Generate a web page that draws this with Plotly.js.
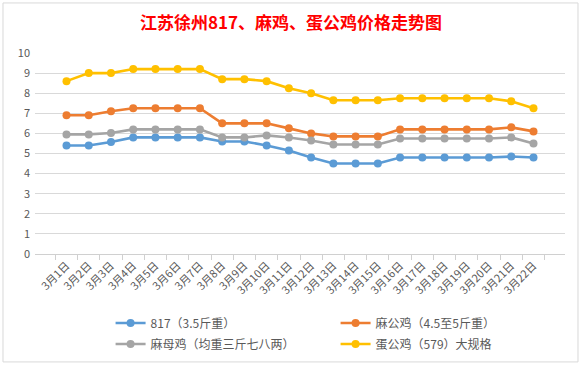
<!DOCTYPE html>
<html><head><meta charset="utf-8">
<script src="https://cdn.plot.ly/plotly-3.0.1.min.js"></script>
<style>html,body{margin:0;padding:0;background:#fff}#c{width:582px;height:366px}</style>
</head><body><div id="c"></div>
<script>
const categories = ["3月1日","3月2日","3月3日","3月4日","3月5日","3月6日","3月7日","3月8日","3月9日","3月10日","3月11日","3月12日","3月13日","3月14日","3月15日","3月16日","3月17日","3月18日","3月19日","3月20日","3月21日","3月22日"];
const s817 = [5.4,5.4,5.57,5.8,5.8,5.8,5.8,5.6,5.6,5.4,5.15,4.8,4.5,4.5,4.5,4.8,4.8,4.8,4.8,4.8,4.85,4.8];
const maGongJi = [6.9,6.9,7.1,7.25,7.25,7.25,7.25,6.5,6.5,6.5,6.25,6.0,5.85,5.85,5.85,6.2,6.2,6.2,6.2,6.2,6.3,6.1];
const maMuJi = [5.95,5.95,6.02,6.2,6.2,6.2,6.2,5.8,5.8,5.9,5.8,5.65,5.45,5.45,5.45,5.75,5.75,5.75,5.75,5.75,5.8,5.5];
const danGongJi = [8.6,9.0,9.0,9.2,9.2,9.2,9.2,8.7,8.7,8.6,8.25,8.0,7.65,7.65,7.65,7.75,7.75,7.75,7.75,7.75,7.6,7.25];
const names = ["817（3.5斤重）","麻公鸡（4.5至5斤重）","麻母鸡（均重三斤七八两）","蛋公鸡（579）大规格"];
const colors = ["#5B9BD5","#ED7D31","#A5A5A5","#FFC000"];
const series = [s817, maGongJi, maMuJi, danGongJi];
const legendIds = ["legend","legend","legend2","legend2"];
const font = "Noto Sans CJK SC, Noto Sans, sans-serif";
const traces = series.map((y,i)=>({
  x: categories, y: y, name: names[i], type: 'scatter', mode: 'lines+markers',
  line: {color: colors[i], width: 2.6}, marker: {color: colors[i], size: 8},
  legend: legendIds[i]
}));
const legendBase = {orientation: 'h', xref: 'container', yref: 'container', x: 0.19, xanchor: 'left', yanchor: 'middle',
  entrywidth: 180, entrywidthmode: 'pixels', font: {size: 12, color: '#595959'}, itemwidth: 30, bgcolor: 'rgba(0,0,0,0)'};
const layout = {
  width: 582, height: 366,
  margin: {l: 35, r: 17, t: 53, b: 112, autoexpand: false},
  paper_bgcolor: '#fff', plot_bgcolor: '#fff',
  font: {family: font, color: '#595959', size: 11},
  title: {text: '江苏徐州817、麻鸡、蛋公鸡价格走势图', font: {family: font, size: 17, color: '#FF0000', weight: 'bold'}, x: 0.5, xanchor: 'center', y: 0.937, yanchor: 'middle'},
  xaxis: {type: 'category', tickangle: -45, ticks: 'outside', tickson: 'boundaries', ticklen: 5, tickcolor: '#d0d0d0',
    showline: true, linecolor: '#d0d0d0', showgrid: false, tickfont: {size: 11, color: '#595959'}, automargin: false},
  yaxis: {range: [0, 10], dtick: 1, showgrid: true, gridcolor: '#d9d9d9', zeroline: false, showline: false,
    ticks: '', tickfont: {size: 11, color: '#595959'}, ticklabelstandoff: 4, automargin: false},
  legend: Object.assign({}, legendBase, {y: 1 - 323/366}),
  legend2: Object.assign({}, legendBase, {y: 1 - 344/366}),
  shapes: [{type: 'rect', xref: 'paper', yref: 'paper', x0: -0.0604, x1: 1.0245, y0: -0.537, y1: 1.249, line: {color: '#d9d9d9', width: 1}}],
  showlegend: true
};
Plotly.newPlot('c', traces, layout, {displayModeBar: false, staticPlot: true});
</script></body></html>
